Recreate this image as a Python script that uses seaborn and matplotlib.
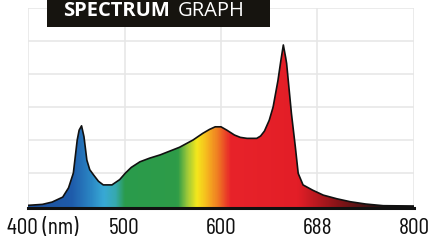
"""Spectrum graph: gradient-filled emission curve."""

import matplotlib

matplotlib.use("Agg")
import matplotlib.pyplot as plt
import numpy as np
import pandas as pd
import seaborn as sns
from matplotlib.colors import LinearSegmentedColormap
from matplotlib.patches import Polygon, Rectangle
from matplotlib.transforms import ScaledTranslation

# curve (nm, relative intensity in grid units)
wavelength = [400, 415, 425, 436, 442, 447, 449, 451, 453, 455.5, 458, 461, 464,
              468, 473, 478, 487, 495, 501, 507, 516, 526, 537, 557, 571, 581,
              588, 594, 600, 606, 614, 620, 627, 637, 641, 645, 650, 654, 659,
              662, 664.6, 667, 668, 673, 677, 680, 685, 695, 706, 720, 734, 750,
              768, 800]
intensity = [0.02, 0.05, 0.12, 0.27, 0.55, 1.0, 1.5, 2.0, 2.3, 2.43, 2.1, 1.39,
             1.1, 0.94, 0.75, 0.64, 0.64, 0.8, 1.0, 1.17, 1.34, 1.45, 1.55, 1.78,
             2.0, 2.2, 2.32, 2.4, 2.4, 2.3, 2.15, 2.08, 2.05, 2.05, 2.12, 2.27,
             2.6, 3.0, 3.8, 4.4, 4.88, 4.5, 4.32, 2.8, 1.8, 0.99, 0.64, 0.48,
             0.33, 0.22, 0.13, 0.06, 0.01, 0.0]

tick_pos = [400, 500, 600, 700, 800]
tick_labels = ["400 (nm)", "500", "600", "688", "800"]

# spectrum colours along the wavelength axis
color_nm = [400, 445, 465, 478, 490, 500, 555, 565, 575, 585, 597, 610, 680,
            720, 770, 800]
color_hex = ["#1c4f9c", "#1f5cab", "#2b87c4", "#38a9d5", "#36a9b0", "#2a9b4c",
             "#2e9c48", "#9cc83a", "#f5e81c", "#f6b91f", "#ef7a23", "#e8232a",
             "#e31e27", "#8b1418", "#1a1110", "#111111"]

df = pd.DataFrame({"nm": wavelength, "val": intensity})

sns.set_style("whitegrid")
plt.rcParams["font.family"] = ["Barlow Condensed", "Roboto Condensed",
                               "Liberation Sans Narrow", "DejaVu Sans"]

fig = plt.figure(figsize=(4.32, 2.46), dpi=100)
ax = fig.add_axes([28 / 432, 38 / 246, 386 / 432, 200 / 246])

ymin, ymax = -0.06, 6
ax.set_xlim(400, 800)
ax.set_ylim(ymin, ymax)

# gradient fill clipped to the curve
stops = [(n - 400) / 400 for n in color_nm]
cmap = LinearSegmentedColormap.from_list("spec", list(zip(stops, color_hex)))
grad = np.linspace(0, 1, 800).reshape(1, -1)
im = ax.imshow(grad, extent=[400, 800, ymin, ymax], aspect="auto", cmap=cmap,
               zorder=2, interpolation="bilinear")
verts = [(400, ymin)] + list(zip(df["nm"], df["val"])) + [(800, ymin)]
clip = Polygon(verts, closed=True, facecolor="none", edgecolor="none",
               transform=ax.transData)
ax.add_patch(clip)
im.set_clip_path(clip)

sns.lineplot(data=df, x="nm", y="val", sort=False, color="#111111", lw=1.2,
             ax=ax, zorder=3)

ax.set_xlabel("")
ax.set_ylabel("")
ax.set_xticks(tick_pos)
ax.set_xticklabels(tick_labels, fontsize=17)
ax.set_yticks(range(0, 7))
ax.set_yticklabels([])
ax.grid(True, color="#e6e6e6", lw=1.1)
ax.tick_params(axis="x", length=4, width=1.5, color="#111111", pad=3,
               labelcolor="#111111")
ax.tick_params(axis="y", length=0)
for side in ["left", "right", "top"]:
    ax.spines[side].set_visible(False)
ax.spines["bottom"].set_color("#111111")
ax.spines["bottom"].set_linewidth(2.2)
ax.spines["bottom"].set_zorder(4)

lbl = ax.get_xticklabels()[0]
lbl.set_transform(lbl.get_transform() + ScaledTranslation(0.145, 0, fig.dpi_scale_trans))

# title box
fig.add_artist(Rectangle((47 / 432, 1 - 26.5 / 246), 223 / 432, 26.5 / 246,
                         transform=fig.transFigure, facecolor="#16140f",
                         edgecolor="none", zorder=5))
title_font = ["Open Sans", "DejaVu Sans"]
t1 = fig.text(63 / 432, 1 - 11.5 / 246, "SPECTRUM", color="white", fontsize=14.5,
              fontweight="bold", family=title_font, va="center", ha="left",
              zorder=6)
fig.canvas.draw()
bb = t1.get_window_extent()
fig.text((bb.x1 + 8) / 432, 1 - 11.5 / 246, "GRAPH", color="white", fontsize=14.5,
         family=title_font, va="center", ha="left", zorder=6)

fig.savefig("out.png", dpi=100)
